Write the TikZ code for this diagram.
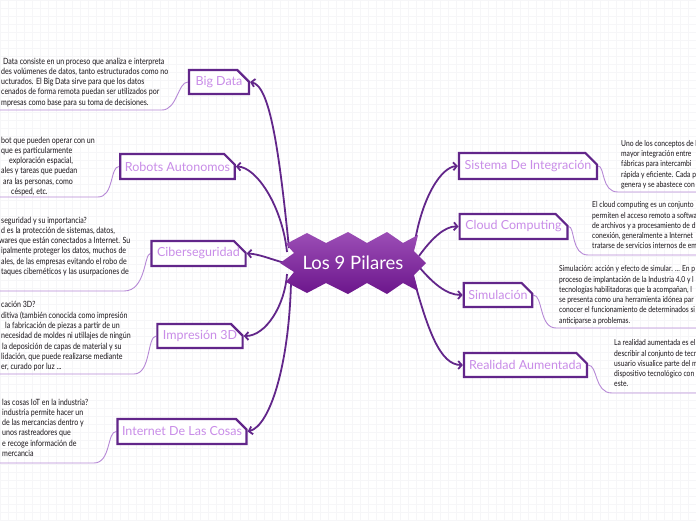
\documentclass[tikz,border=0pt]{standalone}
\usepackage{fontspec}
\setmainfont{Lato}
\newfontfamily\bodyf[FakeStretch=0.82]{Lato}
\usetikzlibrary{arrows.meta,shapes.misc}
\pgfdeclarelayer{bg}
\pgfsetlayers{bg,main}
\definecolor{dpurple}{RGB}{98,38,138}
\definecolor{lpurple}{RGB}{201,141,232}
\definecolor{leafline}{RGB}{182,136,214}
\definecolor{hubtop}{RGB}{156,78,182}
\definecolor{hubbot}{RGB}{108,22,140}
\definecolor{gridc}{RGB}{246,246,248}
\definecolor{bodytext}{RGB}{25,20,25}
\tikzset{
  topic/.style={draw=dpurple, line width=2.2pt, fill=white, chamfered rectangle,
    chamfered rectangle corners=north east, chamfered rectangle xsep=6pt,
    chamfered rectangle ysep=6pt, text=lpurple, inner sep=0pt,
    font=\fontsize{12.5}{14}\selectfont},
  mainlink/.style={draw=dpurple, line width=1.8pt, -{Straight Barb[length=3.5pt,width=8pt]}},
  leaflink/.style={draw=leafline, line width=0.9pt},
  leaftext/.style={anchor=north west, inner sep=0pt, align=left, text=bodytext,
    font=\bodyf\fontsize{8.2}{10.3}\selectfont},
  lefttext/.style={leaftext, font=\bodyf\fontsize{8.6}{10.3}\selectfont},
}
\begin{document}
\begin{tikzpicture}[x=1pt,y=-1pt]
\useasboundingbox (0,0) rectangle (696,520);
\begin{pgfonlayer}{bg}
\fill[white] (0,0) rectangle (696,520);
\foreach \gx in {0,8,...,696} {\draw[gridc, line width=0.4pt] (\gx,0) -- (\gx,520);}
\foreach \gy in {0,8,...,520} {\draw[gridc, line width=0.4pt] (0,\gy) -- (696,\gy);}
\end{pgfonlayer}

% topic boxes
\node[topic, minimum width=60pt, minimum height=24pt] (bigdata) at (219,82) {Big Data};
\node[topic, minimum width=113pt, minimum height=25pt] (robots) at (177.5,166.5) {Robots Autonomos};
\node[topic, minimum width=85pt, minimum height=25pt] (cyber) at (198.5,253.5) {Ciberseguridad};
\node[topic, minimum width=84pt, minimum height=24pt] (print) at (200,336) {Impresión 3D};
\node[topic, minimum width=128pt, minimum height=25pt] (iot) at (182,431.5) {Internet De Las Cosas};
\node[topic, minimum width=132pt, minimum height=26pt] (sys) at (528,166) {Sistema De Integración};
\node[topic, minimum width=101pt, minimum height=25pt] (cloud) at (513.5,226.5) {Cloud Computing};
\node[topic, minimum width=68pt, minimum height=24pt] (sim) at (498,295) {Simulación};
\node[topic, minimum width=123pt, minimum height=24pt] (ar) at (525.5,365) {Realidad Aumentada};

% leaf texts
\node[lefttext] (t1) at (1,57.5) {\hspace*{2pt}Data consiste en un proceso que analiza e interpreta\\
des volúmenes de datos, tanto estructurados como no\\
ucturados. El Big Data sirve para que los datos\\
cenados de forma remota puedan ser utilizados por\\
mpresas como base para su toma de decisiones.};
\node[lefttext] (t2) at (1,136.5) {bot que pueden operar con un\\
que es particularmente\\
\hspace*{8pt}exploración espacial,\\
ales y tareas que puedan\\
\hspace*{2pt}ara las personas, como\\
\hspace*{10pt}césped, etc.};
\node[lefttext] (t3) at (1,216.5) {seguridad y su importancia?\\
d es la protección de sistemas, datos,\\
\hspace*{-2pt}wares que están conectados a Internet. Su\\
ipalmente proteger los datos, muchos de\\
ales, de las empresas evitando el robo de\\
taques cibernéticos y las usurpaciones de};
\node[lefttext] (t4) at (1,301.5) {cación 3D?\\
ditiva (también conocida como impresión\\
\hspace*{4pt}la fabricación de piezas a partir de un\\
necesidad de moldes ni utillajes de ningún\\
\hspace*{1pt}la deposición de capas de material y su\\
lidación, que puede realizarse mediante\\
er, curado por luz ...};
\node[lefttext] (t5) at (2,398.5) {las cosas IoT en la industria?\\
industria permite hacer un\\
de las mercancias dentro y\\
unos rastreadores que\\
e recoge información de\\
mercancia};
\node[leaftext] (t6) at (621,140) {Uno de los conceptos de l\\
mayor integración entre\\
fábricas para intercambi\\
rápida y eficiente. Cada p\\
genera y se abastece con};
\node[leaftext] (t7) at (592,201.5) {El cloud computing es un conjunto\\
permiten el acceso remoto a softwa\\
de archivos y a procesamiento de d\\
conexión, generalmente a Internet\\
tratarse de servicios internos de em};
\node[leaftext] (t8) at (559,265.5) {Simulación: acción y efecto de simular. ... En p\\
proceso de implantación de la Industria 4.0 y l\\
tecnologías habilitadoras que la acompañan, l\\
se presenta como una herramienta idónea par\\
conocer el funcionamiento de determinados si\\
anticiparse a problemas.};
\node[leaftext] (t9) at (614,339.5) {La realidad aumentada es el\\
describir al conjunto de tecn\\
usuario visualice parte del m\\
dispositivo tecnológico con\\
este.};

% underline end points
\coordinate (u1) at (0,110);
\coordinate (u2) at (0,197);
\coordinate (u3) at (0,291);
\coordinate (u4) at (0,374);
\coordinate (u5) at (0,463);
\coordinate (u6) at (696,192);
\coordinate (u7) at (696,255);
\coordinate (u8) at (696,328);
\coordinate (u9) at (696,393);

% hub anchor points
\coordinate (h1) at (289,248);
\coordinate (h2) at (287,252);
\coordinate (h3) at (285,263);
\coordinate (h4) at (287,274);
\coordinate (h5) at (291,282);
\coordinate (h6) at (414,247);
\coordinate (h7) at (419,256);
\coordinate (h8) at (420,268);
\coordinate (h9) at (414,280);

\begin{pgfonlayer}{bg}
% leaf links
\draw[leaflink] (bigdata.west) .. controls (178,82) and (177,110) .. (162,110) -- (u1);
\draw[leaflink] (robots.west) .. controls (110,166) and (114,197) .. (98,197) -- (u2);
\draw[leaflink] (cyber.west) .. controls (144,254) and (146,291) .. (124,291) -- (u3);
\draw[leaflink] (print.west) .. controls (147,336) and (151,374) .. (134,374) -- (u4);
\draw[leaflink] (iot.west) .. controls (107,431) and (111,463) .. (94,463) -- (u5);
\draw[leaflink] (sys.east) .. controls (605,166) and (601,192) .. (618,192) -- (u6);
\draw[leaflink] (cloud.east) .. controls (575,226) and (571,255) .. (588,255) -- (u7);
\draw[leaflink] (sim.east) .. controls (543,295) and (539,328) .. (556,328) -- (u8);
\draw[leaflink] (ar.east) .. controls (598,365) and (594,393) .. (612,393) -- (u9);

% main links
\draw[mainlink] (h1) .. controls (279,150) and (270,86) .. (bigdata.east);
\draw[mainlink] (h2) .. controls (282,205) and (256,167) .. (robots.east);
\draw[mainlink] (h3) .. controls (270,259) and (259,254) .. (cyber.east);
\draw[mainlink] (h4) .. controls (285,305) and (266,336) .. (print.east);
\draw[mainlink] (h5) .. controls (289,365) and (270,426) .. (iot.east);
\draw[mainlink] (h6) .. controls (422,195) and (442,167) .. (sys.west);
\draw[mainlink] (h7) .. controls (432,238) and (445,226) .. (cloud.west);
\draw[mainlink] (h8) .. controls (432,282) and (446,295) .. (sim.west);
\draw[mainlink] (h9) .. controls (428,330) and (440,365) .. (ar.west);
\end{pgfonlayer}

% hub shape
\shade[top color=hubtop, bottom color=hubbot]
  (286,244) -- (307,233) -- (326,243) -- (348,232) -- (367,243) -- (387,232)
  -- (403,243) -- (418,235) -- (414,251) -- (426,263) -- (414,275) -- (418,291)
  -- (403,283) -- (387,294) -- (367,283) -- (348,294) -- (326,283) -- (307,293)
  -- (286,282) -- (294,272) -- (280,263) -- (294,253) -- cycle;
\node[text=white, font=\fontsize{18.5}{21}\selectfont, inner sep=0pt] (hub) at (353,263) {Los 9 Pilares};
\end{tikzpicture}
\end{document}
